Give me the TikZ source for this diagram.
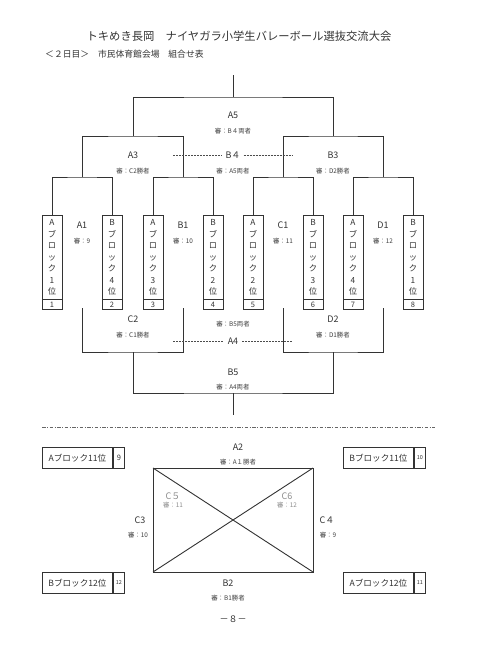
\documentclass[tikz,border=0pt]{standalone}
\usepackage{fontspec}
\setmainfont{Noto Sans CJK JP}
\usetikzlibrary{positioning}

\tikzset{
  bracket/.style={draw=black!80, line width=0.9pt},
  dashline/.style={draw=black!70, line width=0.5pt, dash pattern=on 2pt off 1pt},
  sepline/.style={draw=black!60, line width=1pt, dash pattern=on 3.5pt off 1.5pt on 1pt off 1.5pt},
  lbl/.style={text=black!80, inner sep=0pt, font=\fontsize{9}{9}\selectfont},
  judge/.style={text=black!75, inner sep=0pt, font=\fontsize{6.4}{6.4}\selectfont},
  leafbox/.style={draw=black!80, line width=0.9pt, anchor=north, minimum width=20pt,
    minimum height=84pt, inner sep=0pt, align=center, text=black!80,
    font=\fontsize{8.3}{11.5}\selectfont},
  numbox/.style={draw=black!80, line width=0.9pt, anchor=north, minimum width=20pt,
    minimum height=10pt, inner sep=0pt, text=black!80, font=\fontsize{7.5}{7.5}\selectfont},
  teambox/.style={draw=black!80, line width=0.9pt, anchor=north west, minimum width=70pt,
    minimum height=21pt, inner sep=0pt, text=black!80, font=\fontsize{8.6}{8.6}\selectfont},
  seedbox/.style={draw=black!80, line width=0.9pt, anchor=north west, minimum width=11pt,
    minimum height=21pt, inner sep=0pt, text=black!80},
}

\begin{document}
\begin{tikzpicture}[x=1pt, y=-1pt]
  \useasboundingbox (0,0) rectangle (480,671);

  % heading
  \node (title) at (239,36) [text=black!80, font=\fontsize{11.3}{11.3}\selectfont]
    {トキめき長岡　ナイヤガラ小学生バレーボール選抜交流大会};
  \node (subtitle) at (45,54) [anchor=west, inner sep=0pt, text=black!80,
    font=\fontsize{8.8}{8.8}\selectfont] {＜２日目＞　市民体育館会場　組合せ表};

  % teams
  \foreach \x/\blk/\rk/\n in {52/A/1/1, 112/B/4/2, 153/A/3/3, 213/B/2/4,
      253/A/2/5, 313/B/3/6, 353/A/4/7, 413/B/1/8} {
    \node (leaf\n) at (\x,215) [leafbox] {\blk\\ブ\\ロ\\ッ\\ク\\\rk\\位};
    \node (num\n) at (\x,299) [numbox] {\n};
  }

  % upper bracket
  \coordinate (top) at (233,75);
  \coordinate (a5) at (233,97);
  \coordinate (a3) at (133,136);
  \coordinate (b3) at (333,136);
  \coordinate (a1) at (82,177);
  \coordinate (b1) at (183,177);
  \coordinate (c1) at (283,177);
  \coordinate (d1) at (383,177);

  \draw [bracket] (leaf1.north) |- (a1) -| (leaf2.north);
  \draw [bracket] (leaf3.north) |- (b1) -| (leaf4.north);
  \draw [bracket] (leaf5.north) |- (c1) -| (leaf6.north);
  \draw [bracket] (leaf7.north) |- (d1) -| (leaf8.north);
  \draw [bracket] (a1) |- (a3) -| (b1);
  \draw [bracket] (c1) |- (b3) -| (d1);
  \draw [bracket] (a3) |- (a5) -| (b3);
  \draw [bracket] (a5) -- (top);

  % lower bracket
  \coordinate (c2l) at (82,308);
  \coordinate (c2r) at (183,308);
  \coordinate (d2l) at (283,308);
  \coordinate (d2r) at (383,308);
  \coordinate (c2) at (133,352);
  \coordinate (d2) at (333,352);
  \coordinate (b5) at (233,393);
  \coordinate (bottom) at (233,415);

  \draw [bracket] (c2l) |- (c2) -| (c2r);
  \draw [bracket] (d2l) |- (d2) -| (d2r);
  \draw [bracket] (c2) |- (b5) -| (d2);
  \draw [bracket] (b5) -- (bottom);

  % match labels
  \node (labA5) at (233,115) [lbl] {A5};
  \node (refA5) at (233,131) [judge] {審：B４両者};
  \node (labA3) at (133,155) [lbl] {A3};
  \node (refA3) at (133,171) [judge] {審：C2勝者};
  \node (labB4) at (233,155) [lbl] {B４};
  \node (refB4) at (233,171) [judge] {審：A5両者};
  \node (labB3) at (333,155) [lbl] {B3};
  \node (refB3) at (333,171) [judge] {審：D2勝者};
  \coordinate (b4l) at (173,155);
  \coordinate (b4r) at (293,155);
  \draw [dashline] (b4l) -- ([xshift=-3pt]labB4.west);
  \draw [dashline] ([xshift=3pt]labB4.east) -- (b4r);

  \node (labA1) at (82,225) [lbl] {A1};
  \node (refA1) at (82,241) [judge] {審：9};
  \node (labB1) at (183,225) [lbl] {B1};
  \node (refB1) at (183,241) [judge] {審：10};
  \node (labC1) at (283,225) [lbl] {C1};
  \node (refC1) at (283,241) [judge] {審：11};
  \node (labD1) at (383,225) [lbl] {D1};
  \node (refD1) at (383,241) [judge] {審：12};

  \node (labC2) at (133,319) [lbl] {C2};
  \node (refC2) at (133,335) [judge] {審：C1勝者};
  \node (labD2) at (333,319) [lbl] {D2};
  \node (refD2) at (333,335) [judge] {審：D1勝者};
  \node (refA4) at (233,324) [judge] {審：B5両者};
  \node (labA4) at (233,341) [lbl] {A4};
  \coordinate (a4l) at (173,341);
  \coordinate (a4r) at (293,341);
  \draw [dashline] (a4l) -- ([xshift=-4pt]labA4.west);
  \draw [dashline] ([xshift=4pt]labA4.east) -- (a4r);
  \node (labB5) at (233,372) [lbl] {B5};
  \node (refB5) at (233,387) [judge] {審：A4両者};

  % separator
  \coordinate (sepl) at (42,427);
  \coordinate (sepr) at (435,427);
  \draw [sepline] (sepl) -- (sepr);

  % league of four
  \node (teamA11) at (42,447) [teambox] {Aブロック11位};
  \node (seed9) at (teamA11.north east) [seedbox, font=\fontsize{7.5}{7.5}\selectfont] {9};
  \node (teamB11) at (343,447) [teambox] {Bブロック11位};
  \node (seed10) at (teamB11.north east) [seedbox, font=\fontsize{5.5}{5.5}\selectfont] {10};
  \node (teamB12) at (42,572) [teambox] {Bブロック12位};
  \node (seed12) at (teamB12.north east) [seedbox, font=\fontsize{5.5}{5.5}\selectfont] {12};
  \node (teamA12) at (343,572) [teambox] {Aブロック12位};
  \node (seed11) at (teamA12.north east) [seedbox, font=\fontsize{5.5}{5.5}\selectfont] {11};

  \coordinate (nw) at (153,468);
  \coordinate (ne) at (313,468);
  \coordinate (sw) at (153,572);
  \coordinate (se) at (313,572);
  \draw [bracket] (nw) rectangle (se);
  \draw [bracket] (nw) -- (se);
  \draw [bracket] (ne) -- (sw);

  \node (labA2) at (238,447) [lbl] {A2};
  \node (refA2) at (238,462) [judge] {審：A１勝者};
  \node (labC5) at (173,496) [lbl, text=black!45] {C５};
  \node (refC5) at (173,505) [judge, text=black!45] {審：11};
  \node (labC6) at (287,496) [lbl, text=black!45] {C6};
  \node (refC6) at (287,505) [judge, text=black!45] {審：12};
  \node (labC3) at (140,520) [lbl] {C3};
  \node (refC3) at (138,535) [judge] {審：10};
  \node (labC4) at (327,520) [lbl] {C４};
  \node (refC4) at (328,535) [judge] {審：9};
  \node (labB2) at (228,583) [lbl] {B2};
  \node (refB2) at (228,598) [judge] {審：B1勝者};

  % page number
  \node (page) at (233,619) [text=black!80, font=\fontsize{9}{9}\selectfont] {－８－};
\end{tikzpicture}
\end{document}
